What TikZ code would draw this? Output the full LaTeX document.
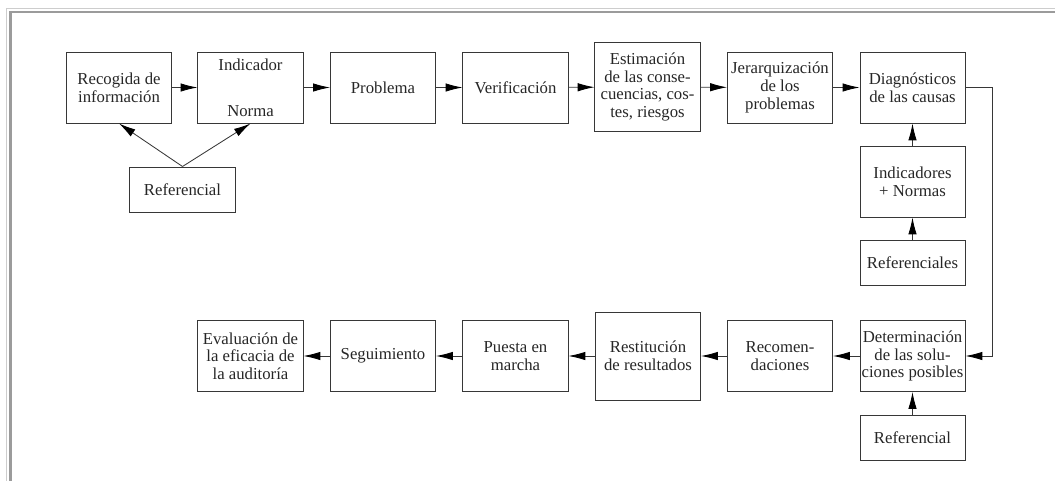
\documentclass[tikz,border=0pt]{standalone}
\usepackage{fontspec}
\setmainfont{Liberation Serif}
\usetikzlibrary{arrows.meta}
\definecolor{framelight}{RGB}{205,205,205}
\definecolor{framedark}{RGB}{155,155,155}
\definecolor{boxline}{RGB}{55,55,55}

\begin{document}
\begin{tikzpicture}[x=0.025cm,y=-0.025cm,
  box/.style={draw=boxline,line width=0.7pt,minimum width=2.625cm,minimum height=1.775cm,
    align=center,inner sep=1pt,text=black!85,font=\fontsize{11.9}{12.6}\selectfont},
  tallbox/.style={box,minimum height=2.2cm},
  flatbox/.style={box,minimum height=1.125cm},
  arr/.style={draw=boxline,line width=0.6pt,-{Latex[length=0.42cm,width=0.21cm,black]}}]
  \useasboundingbox (0,0) rectangle (1055,481);
  % frame of the page
  \draw[framelight,line width=1.4pt] (6,8.5) -- (1055,8.5);
  \draw[framedark,line width=2pt] (10.5,12) -- (1055,12);
  \draw[framelight,line width=1.4pt] (6.5,8) -- (6.5,481);
  \draw[framedark,line width=2pt] (10.5,11) -- (10.5,481);
  % first row
  \node[box] (rec) at (119,87.5) {Recogida de\\información};
  \node[box] (ind) at (250.5,87.5) {Indicador\\[20pt]Norma};
  \node[box] (prob) at (383,87.5) {Problema};
  \node[box] (verif) at (515.5,87.5) {Verificación};
  \node[tallbox] (estim) at (647.5,87) {Estimación\\de las conse-\\cuencias, cos-\\tes, riesgos};
  \node[box] (jer) at (780,87.5) {Jerarquización\\de los\\problemas};
  \node[box] (diag) at (912.5,87.5) {Diagnósticos\\de las causas};
  \node[flatbox] (ref) at (182.5,189.5) {Referencial};
  \node[box] (indnor) at (912.5,181.5) {Indicadores\\+ Normas};
  \node[flatbox] (refs) at (912.5,262.5) {Referenciales};
  % second row
  \node[box] (det) at (912.5,356) {Determinación\\de las solu-\\ciones posibles};
  \node[box] (recom) at (780,356) {Recomen-\\daciones};
  \node[tallbox] (rest) at (648,356) {Restitución\\de resultados};
  \node[box] (puesta) at (515.5,356) {Puesta en\\marcha};
  \node[box] (seg) at (383,356) {Seguimiento};
  \node[box] (eval) at (250.5,356) {Evaluación de\\la eficacia de\\la auditoría};
  \node[flatbox] (refb) at (912.5,437.5) {Referencial};
  % connectors
  \foreach \a/\b in {rec/ind,ind/prob,prob/verif,verif/estim,estim/jer,jer/diag,
    det/recom,recom/rest,rest/puesta,puesta/seg,seg/eval}
    \draw[arr] (\a) -- (\b);
  \draw[arr] (ref.north) -- (rec.south);
  \draw[arr] (ref.north) -- (ind.south);
  \draw[arr] (refs) -- (indnor);
  \draw[arr] (indnor) -- (diag);
  \draw[arr] (refb) -- (det);
  \draw[arr] (diag.east) -- ++(27,0) |- (det.east);
\end{tikzpicture}
\end{document}
